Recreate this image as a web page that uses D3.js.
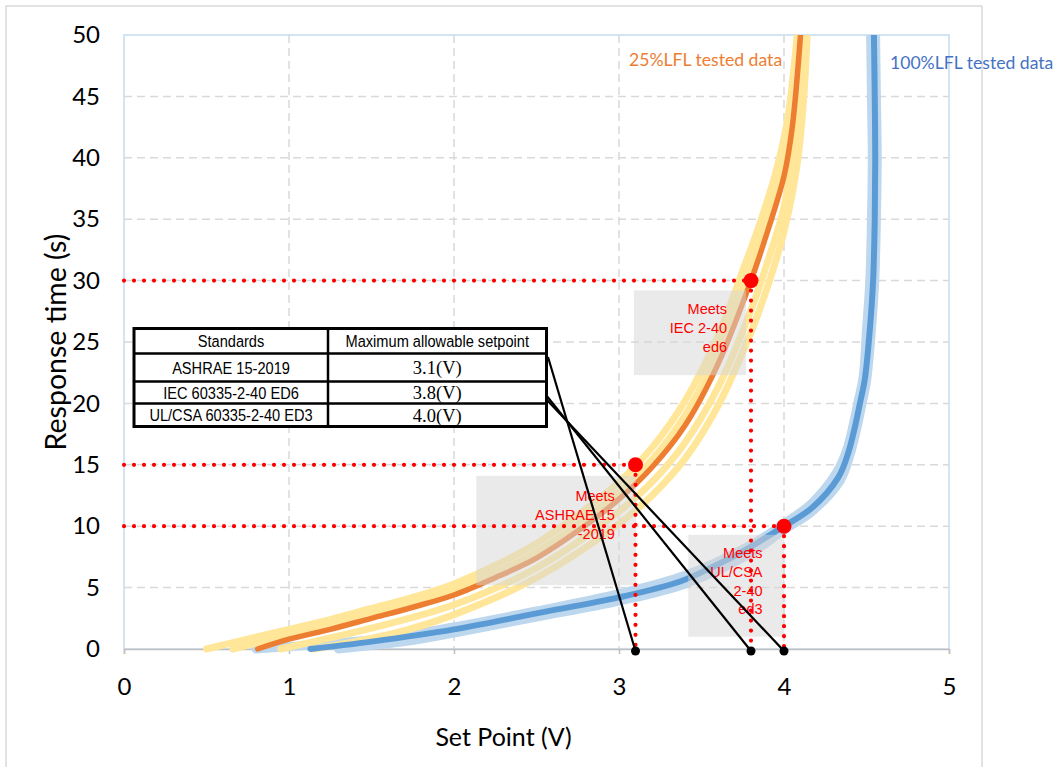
<!DOCTYPE html>
<html>
<head>
<meta charset="utf-8">
<script src="https://cdn.jsdelivr.net/npm/d3@7"></script>
<style>
  body { margin: 0; background: #fff; }
  svg { display: block; }
</style>
</head>
<body>
<svg id="chart" width="1059" height="767"></svg>
<script>
// ---- axis ticks ----
const xTicks = [0, 1, 2, 3, 4, 5];
const yTicks = [0, 5, 10, 15, 20, 25, 30, 35, 40, 45, 50];

// ---- 25%LFL tested data: replicate runs and averaged curve [set point V, response time s] ----
const lfl25Run1 = [[0.50,0],[0.75,0.8],[1.0,1.6],[1.25,2.4],[1.5,3.3],[1.75,4.2],[2.0,5.3],[2.25,6.8],[2.5,8.6],[2.75,10.9],[3.0,13.6],[3.2,16.4],[3.4,20.2],[3.6,25.5],[3.75,30.8],[3.85,34.5],[3.95,38.8],[4.02,43],[4.08,50]];
const lfl25Run2 = [[0.66,0],[0.9,0.8],[1.15,1.6],[1.5,2.8],[2.0,4.8],[2.5,7.9],[3.0,12.8],[3.2,15.4],[3.4,19.0],[3.6,24.2],[3.8,31],[3.9,35],[4.0,39.6],[4.09,50]];
const lfl25Run3 = [[0.95,0],[1.25,0.9],[1.5,1.7],[2.0,3.6],[2.5,6.6],[3.0,11.2],[3.2,13.6],[3.4,16.8],[3.6,21.3],[3.8,27.6],[3.9,31.5],[4.0,36],[4.07,42],[4.12,50]];
const lfl25Run4 = [[1.15,0],[1.4,0.6],[1.7,1.5],[2.0,2.8],[2.5,5.8],[3.0,10.2],[3.2,12.5],[3.4,15.5],[3.6,19.8],[3.8,25.8],[3.9,29.5],[4.0,34],[4.08,39.5],[4.12,45],[4.14,50]];
const lfl25Mean = [[0.81,0],[1.0,0.8],[1.25,1.6],[1.5,2.5],[1.75,3.4],[2.0,4.4],[2.25,5.8],[2.5,7.4],[2.75,9.6],[3.0,12.2],[3.2,14.8],[3.4,18.2],[3.6,23.2],[3.8,30],[3.9,34],[4.0,38.5],[4.05,42.5],[4.1,50]];

// ---- 100%LFL tested data: replicate runs and averaged curve ----
const lfl100Run1 = [[0.80,0],[1.2,0.4],[1.6,0.9],[2.0,1.8],[2.5,3.1],[3.0,4.5],[3.4,6.0],[3.8,8.5],[4.0,10.2],[4.17,11.9],[4.32,14.4],[4.38,16.2],[4.42,18.3],[4.45,20.2],[4.48,22.2],[4.50,26],[4.52,30],[4.53,35],[4.535,40],[4.53,45],[4.525,50]];
const lfl100Run2 = [[1.30,0],[1.7,0.6],[2.0,1.3],[2.5,2.6],[3.0,3.9],[3.4,5.3],[3.8,7.8],[4.0,9.7],[4.17,11.2],[4.34,13.7],[4.40,15.8],[4.44,17.9],[4.47,19.8],[4.50,21.8],[4.53,26],[4.55,30],[4.56,35],[4.565,40],[4.56,45],[4.555,50]];
const lfl100Mean = [[1.13,0],[1.5,0.6],[2.0,1.6],[2.5,2.9],[3.0,4.2],[3.37,5.5],[3.57,6.7],[3.77,8.1],[4.0,10],[4.17,11.5],[4.33,14.0],[4.39,16],[4.43,18.1],[4.46,20],[4.49,22],[4.52,26],[4.54,30],[4.55,35],[4.553,40],[4.55,45],[4.545,50]];

// ---- standards and their limits ----
const tableHeader = ["Standards", "Maximum allowable setpoint"];
const standards = ["ASHRAE 15-2019", "IEC 60335-2-40 ED6", "UL/CSA 60335-2-40 ED3"];
const setpointLabels = ["3.1(V)", "3.8(V)", "4.0(V)"];
const limitSetpoints = [3.1, 3.8, 4.0];
const limitTimes = [15, 30, 10];
const noteLines = [["Meets", "ASHRAE 15", "-2019"], ["Meets", "IEC 2-40", "ed6"], ["Meets", "UL/CSA", "2-40", "ed3"]];
const seriesLabels = ["25%LFL tested data", "100%LFL tested data"];
const axisTitles = ["Set Point (V)", "Response time (s)"];

// ---- layout ----
const plot = { left: 124, top: 35, right: 949, bottom: 649 };
const svg = d3.select("#chart");

const x = d3.scaleLinear().domain([0, 5]).range([plot.left, plot.right]);
const y = d3.scaleLinear().domain([0, 50]).range([plot.bottom, plot.top]);

const calibri = "Lato, 'Open Sans', sans-serif";
const arial = "'Liberation Sans', Arial, sans-serif";

// outer chart frame
svg.append("rect").attr("x", 6).attr("y", 6).attr("width", 976).attr("height", 775)
  .attr("fill", "#fff").attr("stroke", "#d9d9d9").attr("stroke-width", 1.5);

// gridlines
const grid = svg.append("g");
grid.selectAll("line.h").data(yTicks.filter(t => t > 0 && t < 50)).join("line")
  .attr("x1", plot.left).attr("x2", plot.right)
  .attr("y1", d => y(d)).attr("y2", d => y(d))
  .attr("stroke", "#d9d9d9").attr("stroke-width", 1.5).attr("stroke-dasharray", "8,5");
grid.selectAll("line.v").data(xTicks.filter(t => t > 0 && t < 5)).join("line")
  .attr("y1", plot.top).attr("y2", plot.bottom)
  .attr("x1", d => x(d)).attr("x2", d => x(d))
  .attr("stroke", "#d9d9d9").attr("stroke-width", 1.5).attr("stroke-dasharray", "8,5");

// plot-area border
svg.append("rect").attr("x", plot.left).attr("y", plot.top)
  .attr("width", plot.right - plot.left).attr("height", plot.bottom - plot.top)
  .attr("fill", "none").attr("stroke", "#c5dcf0").attr("stroke-width", 1.5);

// x axis line and ticks
const xAxis = d3.axisBottom(x).tickValues(xTicks).tickSize(5).tickFormat(d3.format("d"));
const gx = svg.append("g").attr("transform", `translate(0,${plot.bottom})`).call(xAxis);
gx.select(".domain").attr("stroke", "#bfbfbf").attr("stroke-width", 1.5);
gx.selectAll(".tick line").attr("stroke", "#bfbfbf").attr("stroke-width", 1.5);
gx.selectAll(".tick text").attr("font-family", calibri).attr("font-size", 24)
  .attr("fill", "#000").attr("y", 46).attr("dy", null);

const yAxis = d3.axisLeft(y).tickValues(yTicks).tickSize(0).tickPadding(24).tickFormat(d3.format("d"));
const gy = svg.append("g").attr("transform", `translate(${plot.left},0)`).call(yAxis);
gy.select(".domain").remove();
gy.selectAll(".tick text").attr("font-family", calibri).attr("font-size", 24).attr("fill", "#000");

// axis titles
svg.append("text").attr("x", (plot.left + plot.right) / 2 - 33).attr("y", 746)
  .attr("text-anchor", "middle").attr("font-family", calibri).attr("font-size", 25)
  .attr("fill", "#000").text(axisTitles[0]);
svg.append("text").attr("transform", `translate(66,${342}) rotate(-90)`)
  .attr("text-anchor", "middle").attr("font-family", calibri).attr("font-size", 28.5)
  .attr("fill", "#000").text(axisTitles[1]);

// curves
svg.append("clipPath").attr("id", "plotClip").append("rect")
  .attr("x", plot.left - 20).attr("y", plot.top)
  .attr("width", plot.right - plot.left + 40).attr("height", plot.bottom - plot.top + 20);
const curves = svg.append("g").attr("clip-path", "url(#plotClip)");
const line = d3.line().x(d => x(d[0])).y(d => y(d[1])).curve(d3.curveCatmullRom.alpha(0.5));

const drawCurve = (data, color, width) => curves.append("path").datum(data)
  .attr("d", line).attr("fill", "none").attr("stroke", color)
  .attr("stroke-width", width).attr("stroke-linecap", "round").attr("stroke-linejoin", "round");

[lfl100Run1, lfl100Run2].forEach(r => drawCurve(r, "#bdd7ee", 9));
[lfl25Run1, lfl25Run2, lfl25Run3, lfl25Run4].forEach(r => drawCurve(r, "#ffe699", 7));
drawCurve(lfl100Mean, "#5b9bd5", 6);
drawCurve(lfl25Mean, "#ed7d31", 5.5);

// shaded note boxes (drawn over the curves, semi-transparent)
const noteBoxes = [
  { x0: 2.135, x1: 3.103, t0: 5.2, t1: 14.1 },
  { x0: 3.09, x1: 3.77, t0: 22.3, t1: 29.2 },
  { x0: 3.42, x1: 4.0, t0: 1.0, t1: 9.3 }
];
svg.append("g").selectAll("rect").data(noteBoxes).join("rect")
  .attr("x", d => x(d.x0)).attr("y", d => y(d.t1))
  .attr("width", d => x(d.x1) - x(d.x0)).attr("height", d => y(d.t0) - y(d.t1))
  .attr("fill", "#d6d6d6").attr("opacity", 0.5);

// red dotted guide lines
const guides = svg.append("g").attr("stroke", "#ff0000").attr("stroke-width", 4.2)
  .attr("stroke-dasharray", "0,10").attr("stroke-linecap", "round");
limitSetpoints.forEach((v, i) => {
  guides.append("line").attr("x1", x(0)).attr("x2", x(v))
    .attr("y1", y(limitTimes[i])).attr("y2", y(limitTimes[i]));
  guides.append("line").attr("x1", x(v)).attr("x2", x(v))
    .attr("y1", y(limitTimes[i])).attr("y2", y(0));
});

// note texts
const noteAnchors = [
  { right: 2.975, top: 496 },
  { right: 3.655, top: 309 },
  { right: 3.87, top: 553 }
];
noteLines.forEach((lines, i) => {
  const t = svg.append("text").attr("font-family", arial).attr("font-size", 14.5)
    .attr("fill", "#ff0000").attr("text-anchor", "end");
  lines.forEach((s, j) => t.append("tspan").attr("x", x(noteAnchors[i].right))
    .attr("y", noteAnchors[i].top + j * 18.8).attr("dy", "0.35em").text(s));
});

// red markers at the limit points
svg.append("g").selectAll("circle").data(limitSetpoints).join("circle")
  .attr("cx", d => x(d)).attr("cy", (d, i) => y(limitTimes[i]))
  .attr("r", 7.5).attr("fill", "#ff0000");

// standards table
const table = { left: 134, mid: 328, right: 546.5, rows: [328.5, 353.5, 381.5, 403.5, 426.5] };
const tg = svg.append("g");
tg.append("rect").attr("x", table.left).attr("y", table.rows[0])
  .attr("width", table.right - table.left).attr("height", table.rows[4] - table.rows[0])
  .attr("fill", "#fff").attr("stroke", "#000").attr("stroke-width", 3);
tg.selectAll("line.r").data(table.rows.slice(1, 4)).join("line")
  .attr("x1", table.left).attr("x2", table.right).attr("y1", d => d).attr("y2", d => d)
  .attr("stroke", "#000").attr("stroke-width", 2.5);
tg.append("line").attr("x1", table.mid).attr("x2", table.mid)
  .attr("y1", table.rows[0]).attr("y2", table.rows[4]).attr("stroke", "#000").attr("stroke-width", 2.5);

const leftCx = (table.left + table.mid) / 2, rightCx = (table.mid + table.right) / 2;
const rowCy = i => (table.rows[i] + table.rows[i + 1]) / 2;
const narrowText = (cx, cy, s) => tg.append("text")
  .attr("transform", `translate(${cx},${cy}) scale(0.86,1)`)
  .attr("text-anchor", "middle").attr("dy", "0.36em")
  .attr("font-family", arial).attr("font-size", 17).attr("fill", "#000").text(s);
narrowText(leftCx, rowCy(0), tableHeader[0]);
narrowText(rightCx, rowCy(0), tableHeader[1]);
standards.forEach((s, i) => narrowText(leftCx, rowCy(i + 1), s));
setpointLabels.forEach((s, i) => tg.append("text").attr("x", rightCx).attr("y", rowCy(i + 1))
  .attr("text-anchor", "middle").attr("dy", "0.36em")
  .attr("font-family", "'Liberation Serif', 'Times New Roman', serif").attr("font-size", 18.5)
  .attr("fill", "#000").text(s));

// leader lines from the table to the set points on the axis
const leaderStarts = [[548, 357], [546, 395], [546, 399]];
svg.append("g").selectAll("line").data(limitSetpoints).join("line")
  .attr("x1", (d, i) => leaderStarts[i][0]).attr("y1", (d, i) => leaderStarts[i][1])
  .attr("x2", d => x(d)).attr("y2", y(0) + 2)
  .attr("stroke", "#000").attr("stroke-width", 2.2);
svg.append("g").selectAll("circle").data(limitSetpoints).join("circle")
  .attr("cx", d => x(d)).attr("cy", y(0) + 2).attr("r", 4.5).attr("fill", "#000");

// series labels
svg.append("text").attr("x", 629).attr("y", 66).attr("font-family", calibri).attr("font-size", 17.6)
  .attr("fill", "#ed7d31").text(seriesLabels[0]);
svg.append("text").attr("x", 890).attr("y", 69).attr("font-family", calibri).attr("font-size", 17.6)
  .attr("fill", "#4472c4").text(seriesLabels[1]);
</script>
</body>
</html>
